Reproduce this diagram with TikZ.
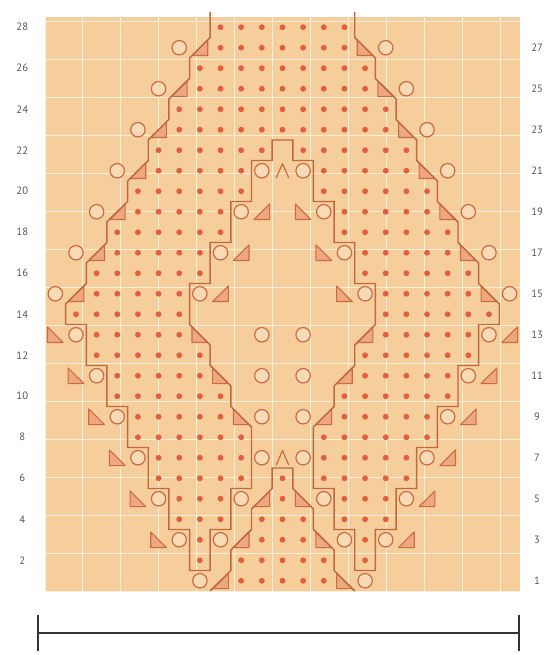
\documentclass[tikz,border=0pt]{standalone}
\usepackage{fontspec}
\setsansfont{PT Sans}
\usepackage{tikz}
\definecolor{chbg}{RGB}{245,206,156}
\definecolor{chgrid}{RGB}{253,238,218}
\definecolor{chdot}{RGB}{226,94,62}
\definecolor{chink}{RGB}{204,106,66}
\definecolor{chline}{RGB}{192,104,62}
\definecolor{chtri}{RGB}{238,168,128}
\definecolor{chnum}{RGB}{85,85,85}
\tikzset{
  purl/.style={fill=chdot},
  yo/.style={draw=chink, line width=0.9pt, fill=chbg!75!white},
  dec/.style={draw=chink, line width=0.8pt, fill=chtri, line join=round},
  cdd/.style={draw=chink, line width=0.9pt, line join=round},
  rim/.style={draw=chline, line width=1.1pt, line join=miter},
  rownum/.style={font=\sffamily\fontsize{8}{8}\selectfont, text=chnum},
  bar/.style={draw=black!80, line width=1.6pt}
}
\begin{document}
\begin{tikzpicture}[x=0.75pt, y=0.75pt]
  \useasboundingbox (0,0) rectangle (552,655);
  \begin{scope}[shift={(45,64)}, x=15.4875pt, y=15.375pt]
    \fill[chbg] (0,0) rectangle (23,28);
    \draw[chgrid, line width=0.7pt] (0,0) grid (23,28);
    % purl stitches, row/first/last
    \foreach \r/\a/\b in {28/9/15,27/9/15,26/8/16,25/8/16,24/7/17,23/7/17,
        22/6/11,22/13/18,21/6/10,21/14/18,20/5/10,20/14/19,19/5/9,19/15/19,
        18/4/9,18/15/20,17/4/8,17/16/20,16/3/8,16/16/21,15/3/7,15/17/21,
        14/2/7,14/17/22,13/3/7,13/17/21,12/3/8,12/16/21,11/4/8,11/16/20,
        10/4/9,10/15/20,9/5/9,9/15/19,8/5/10,8/14/19,7/6/10,7/14/18,
        6/6/10,6/12/12,6/14/18,5/7/9,5/12/12,5/15/17,4/7/9,4/11/13,4/15/17,
        3/8/8,3/11/13,3/16/16,2/8/8,2/10/14,2/16/16,1/10/14}
      \foreach \c in {\a,...,\b}
        \fill[purl] (\c-0.5,\r-0.5) circle[radius=2.2pt];
    % yarn overs
    \foreach \c/\r in {7/27,17/27,6/25,18/25,5/23,19/23,4/21,11/21,13/21,20/21,
        3/19,10/19,14/19,21/19,2/17,9/17,15/17,22/17,1/15,8/15,16/15,23/15,
        2/13,11/13,13/13,22/13,3/11,11/11,13/11,21/11,4/9,11/9,13/9,20/9,
        5/7,11/7,13/7,19/7,6/5,10/5,14/5,18/5,7/3,9/3,15/3,17/3,8/1,16/1}
      \draw[yo] (\c-0.5,\r-0.5) circle[radius=5.4pt];
    % k2tog
    \foreach \c/\r in {8/27,7/25,6/23,5/21,4/19,11/19,3/17,10/17,2/15,9/15,
        16/13,23/13,15/11,22/11,14/9,21/9,20/7,11/5,19/5,10/3,18/3,9/1}
      \draw[dec] (\c-0.88,\r-0.88) -- (\c-0.12,\r-0.88) -- (\c-0.12,\r-0.12) -- cycle;
    % ssk
    \foreach \c/\r in {16/27,17/25,18/23,19/21,13/19,20/19,14/17,21/17,15/15,22/15,
        1/13,8/13,2/11,9/11,3/9,10/9,4/7,5/5,13/5,6/3,14/3,15/1}
      \draw[dec] (\c-0.88,\r-0.88) -- (\c-0.12,\r-0.88) -- (\c-0.88,\r-0.12) -- cycle;
    % central double decreases
    \foreach \c/\r in {12/21,12/7}
      \draw[cdd] (\c-0.8,\r-0.85) -- (\c-0.5,\r-0.15) -- (\c-0.2,\r-0.85);
    % outline of the purl band
    \draw[rim] (8,28.25) -- (8,27) -- (7,26) -- (7,25) -- (6,24) -- (6,23)
      -- (5,22) -- (5,21) -- (4,20) -- (4,19) -- (3,18) -- (3,17) -- (2,16)
      -- (2,15) -- (1,14) -- (1,13) -- (2,13) -- (2,11) -- (3,11) -- (3,9)
      -- (4,9) -- (4,7) -- (5,7) -- (5,5) -- (6,5) -- (6,3) -- (7,3) -- (7,1)
      -- (8,1) -- (8,3) -- (9,3) -- (9,5) -- (10,5) -- (10,8) -- (9,9)
      -- (9,10) -- (8,11) -- (8,12) -- (7,13) -- (7,15) -- (8,15) -- (8,17)
      -- (9,17) -- (9,19) -- (10,19) -- (10,21) -- (11,21) -- (11,22)
      -- (12,22) -- (12,21) -- (13,21) -- (13,19) -- (14,19) -- (14,17)
      -- (15,17) -- (15,15) -- (16,15) -- (16,13) -- (15,12) -- (15,11)
      -- (14,10) -- (14,9) -- (13,8) -- (13,5) -- (14,5) -- (14,3) -- (15,3)
      -- (15,1) -- (16,1) -- (16,3) -- (17,3) -- (17,5) -- (18,5) -- (18,7)
      -- (19,7) -- (19,9) -- (20,9) -- (20,11) -- (21,11) -- (21,13)
      -- (22,13) -- (22,14) -- (21,15) -- (21,16) -- (20,17) -- (20,18)
      -- (19,19) -- (19,20) -- (18,21) -- (18,22) -- (17,23) -- (17,24)
      -- (16,25) -- (16,26) -- (15,27) -- (15,28.25);
    % outline of the small centre block
    \draw[rim] (8,0) -- (9,1) -- (9,2) -- (10,3) -- (10,4) -- (11,5) -- (11,6)
      -- (12,6) -- (12,5) -- (13,4) -- (13,3) -- (14,2) -- (14,1) -- (15,0);
    % row numbers
    \foreach \r in {2,4,...,28}
      \node[rownum] (n\r) at (-1.1,\r-0.5) {\r};
    \foreach \r in {1,3,...,27}
      \node[rownum] (n\r) at (23.83,\r-0.5) {\r};
  \end{scope}
  % width bar
  \draw[bar] (38,22) -- (519,22);
  \draw[bar] (38,4) -- (38,40);
  \draw[bar] (519,4) -- (519,40);
\end{tikzpicture}
\end{document}
